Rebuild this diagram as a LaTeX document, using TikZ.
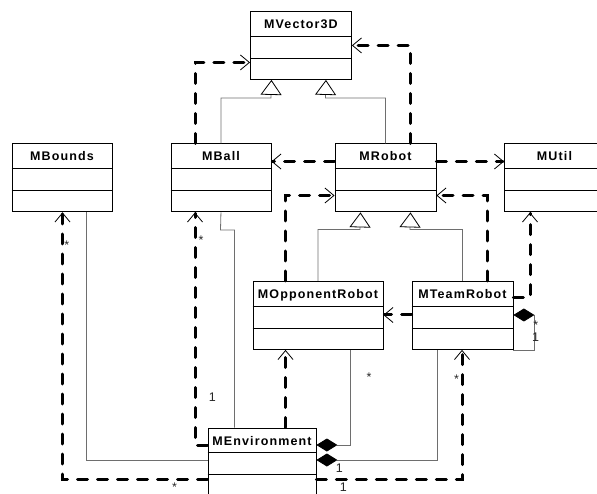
\documentclass[tikz,border=0pt]{standalone}
\usepackage{fontspec}
\setmainfont{Liberation Sans}
\newfontfamily\classfont[LetterSpace=9]{Liberation Sans}
\usetikzlibrary{arrows.meta}
\definecolor{linegray}{RGB}{110,110,110}

\begin{document}
\begin{tikzpicture}[x=1pt,y=-1pt,
  class node/.style={draw,line width=0.9pt,minimum height=68pt,anchor=north west,inner sep=0pt},
  title node/.style={anchor=base,inner sep=0pt,font=\classfont\bfseries\fontsize{12.5}{14}\selectfont},
  dep/.style={line width=3pt,line cap=round,dash pattern=on 10pt off 10pt,-{Straight Barb[length=9pt,width=15pt,line width=0.8pt]}},
  gen/.style={linegray,line width=0.8pt,-{Triangle[length=15pt,width=21pt,line width=0.8pt,color=black,fill=white]}},
  assoc/.style={linegray,line width=0.8pt},
  comp/.style={linegray,line width=0.8pt,{Diamond[length=21pt,width=13pt,color=black]}-},
  mult/.style={inner sep=0pt,font=\fontsize{12.5}{13}\selectfont,text=black!85},
  star/.style={mult,anchor=north,yshift=1.8pt}]

\useasboundingbox (0,0) rectangle (597,494);

% classes
\node[class node,minimum width=101pt] (vec) at (250,11) {};
\node[class node,minimum width=100pt] (bounds) at (11.5,143.5) {};
\node[class node,minimum width=100pt] (ball) at (170.5,143.5) {};
\node[class node,minimum width=101pt] (robot) at (334.5,143.5) {};
\node[class node,minimum width=100pt] (util) at (504,143.5) {};
\node[class node,minimum width=130pt] (opp) at (252.5,281) {};
\node[class node,minimum width=101pt] (team) at (411.5,281) {};
\node[class node,minimum width=108pt] (env) at (207.5,427.5) {};

\foreach \c in {vec,bounds,ball,robot,util,opp,team,env}{
  \draw[line width=0.9pt] ([yshift=-25pt]\c.north west) -- ([yshift=-25pt]\c.north east);
  \draw[line width=0.9pt] ([yshift=-47pt]\c.north west) -- ([yshift=-47pt]\c.north east);
}

\node[title node] (vec-t) at ([yshift=-17.5pt]vec.north) {MVector3D};
\node[title node] (bounds-t) at ([yshift=-17.5pt]bounds.north) {MBounds};
\node[title node] (ball-t) at ([yshift=-17.5pt]ball.north) {MBall};
\node[title node] (robot-t) at ([yshift=-17.5pt]robot.north) {MRobot};
\node[title node] (util-t) at ([yshift=-17.5pt]util.north) {MUtil};
\node[title node] (opp-t) at ([yshift=-17.5pt]opp.north) {MOpponentRobot};
\node[title node] (team-t) at ([yshift=-17.5pt]team.north) {MTeamRobot};
\node[title node] (env-t) at ([yshift=-17.5pt]env.north) {MEnvironment};

% generalizations
\draw[gen] (ball.north) |- (271,98) -- ([xshift=-29.5pt]vec.south);
\draw[gen] (robot.north) |- (325.5,98) -- ([xshift=25pt]vec.south);
\draw[gen] (opp.north) |- (360,229.5) -- ([xshift=-25pt]robot.south);
\draw[gen] (team.north) |- (410,229.5) -- ([xshift=25pt]robot.south);

% dependencies
\draw[dep] ([xshift=24.5pt]ball.north west) |- ([yshift=-17pt]vec.west);
\draw[dep] ([xshift=75.5pt]robot.north west) |- (vec.east);
\draw[dep] ([yshift=-18pt]robot.north west) -- ([yshift=-18pt]ball.north east);
\draw[dep] ([yshift=-18pt]robot.north east) -- ([yshift=-18pt]util.north west);
\draw[dep] ([xshift=32.5pt]opp.north west) |- ([yshift=-52pt]robot.north west);
\draw[dep] ([xshift=76pt]team.north west) |- ([yshift=-52pt]robot.north east);
\draw[dep] ([yshift=-17pt]team.north east) -| ([xshift=26pt]util.south west);
\draw[dep] ([yshift=-34pt]team.north west) -- ([yshift=-34pt]opp.north east);
\draw[dep] ([yshift=-17.5pt]env.north west) -| ([xshift=24.5pt]ball.south west);
\draw[dep] ([xshift=78pt]env.north west) -- ([xshift=33pt]opp.south west);
\draw[dep] ([yshift=-51.5pt]env.north west) -| ([xshift=51pt]bounds.south west);
\draw[dep] ([yshift=-51.5pt]env.north east) -| ([xshift=50.5pt]team.south west);

% associations and compositions
\draw[assoc] ([xshift=27pt]env.north west) |- (220.5,230) -- (ball.south);
\draw[assoc] ([yshift=-32.5pt]env.north west) -| ([xshift=75pt]bounds.south west);
\draw[comp] ([yshift=-17.5pt]env.north east) -| ([xshift=97.5pt]opp.south west);
\draw[comp] ([yshift=-32.5pt]env.north east) -| ([xshift=25.5pt]team.south west);
\draw[comp] ([yshift=-34pt]team.north east) -- ++(21,0) |- (team.south east);

% multiplicities
\node[star] (m-bounds) at (66.7,243) {*};
\node[star] (m-ball) at (201,238) {*};
\node[mult] (m-env-ball) at (212.3,396.7) {1};
\node[star] (m-opp) at (369,374) {*};
\node[star] (m-team) at (456.5,376.5) {*};
\node[star] (m-env-bounds) at (174.5,484) {*};
\node[mult] (m-env-team) at (339.3,468.3) {1};
\node[mult] (m-env-dep) at (343.3,486.7) {1};
\node[star] (m-self-a) at (535.7,322.7) {*};
\node[mult] (m-self-b) at (535.7,337.3) {1};
\end{tikzpicture}
\end{document}
